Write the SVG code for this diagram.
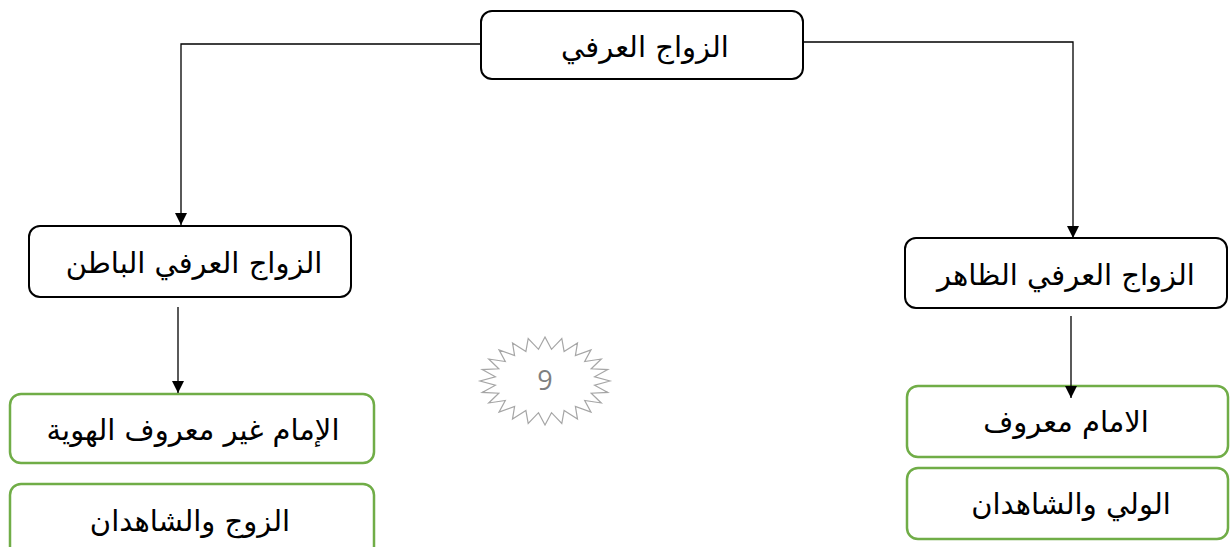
<svg xmlns="http://www.w3.org/2000/svg" width="1231" height="547" viewBox="0 0 1231 547">
<style>
.box{fill:#fff;stroke:#000;stroke-width:2}
.gbox{fill:#fff;stroke:#70AD47;stroke-width:2.5}
.t{font-family:"DejaVu Sans","Liberation Sans",sans-serif;font-size:29px;fill:#000;text-anchor:middle;direction:rtl}
.c{fill:none;stroke:#000;stroke-width:1.3}
</style>
<defs>
<marker id="ah" markerWidth="12" markerHeight="12" refX="12" refY="6" orient="auto" markerUnits="userSpaceOnUse">
<path d="M0,0 L12,6 L0,12 Z" fill="#000"/>
</marker>
</defs>
<rect width="1231" height="547" fill="#fff"/>
<g id="root">
<rect class="box" x="481" y="11" width="322" height="68" rx="11"/>
<text class="t" x="645" y="57">الزواج العرفي</text>
</g>
<g id="batin">
<rect class="box" x="29" y="226" width="322" height="71" rx="11"/>
<text class="t" x="194" y="273">الزواج العرفي الباطن</text>
</g>
<g id="zahir">
<rect class="box" x="905" y="238" width="322" height="70" rx="11"/>
<text class="t" x="1066" y="285">الزواج العرفي الظاهر</text>
</g>
<g id="imam-unknown">
<rect class="gbox" x="10" y="394" width="364" height="69" rx="11"/>
<text class="t" x="193" y="440">الإمام غير معروف الهوية</text>
</g>
<g id="husband-witnesses">
<rect class="gbox" x="10" y="484" width="364" height="75" rx="11"/>
<text class="t" x="190" y="531">الزوج والشاهدان</text>
</g>
<g id="imam-known">
<rect class="gbox" x="907" y="386" width="321" height="71" rx="11"/>
<text class="t" x="1066" y="432">الامام معروف</text>
</g>
<g id="wali-witnesses">
<rect class="gbox" x="907" y="468" width="321" height="71" rx="11"/>
<text class="t" x="1071" y="514">الولي والشاهدان</text>
</g>
<g id="page-number">
<polygon fill="none" stroke="#a6a6a6" stroke-width="1.2" points="610,381 594.6,385.2 607.8,392.4 591.2,393.2 601.3,403 584.7,400.5 591,412.1 575.4,406.4 577.5,419.1 564.1,410.6 561.8,423.5 551.5,412.7 545,425 538.5,412.7 528.2,423.5 525.9,410.6 512.5,419.1 514.6,406.4 499,412.1 505.3,400.5 488.7,403 498.8,393.2 482.2,392.4 495.4,385.2 480,381 495.4,376.8 482.2,369.6 498.8,368.8 488.7,359 505.3,361.5 499,349.9 514.6,355.6 512.5,342.9 525.9,351.4 528.2,338.5 538.5,349.3 545,337 551.5,349.3 561.8,338.5 564.1,351.4 577.5,342.9 575.4,355.6 591,349.9 584.7,361.5 601.3,359 591.2,368.8 607.8,369.6 594.6,376.8"/>
<text x="545" y="390" font-family="'Open Sans','Liberation Sans',sans-serif" font-size="27" fill="#7f7f7f" text-anchor="middle">9</text>
</g>
<g id="connectors">
<polyline class="c" points="481,44 181,44 181,225" marker-end="url(#ah)"/>
<polyline class="c" points="803,42 1073,42 1073,238" marker-end="url(#ah)"/>
<line class="c" x1="178" y1="307" x2="178" y2="393" marker-end="url(#ah)"/>
<line class="c" x1="1071" y1="316" x2="1071" y2="398" marker-end="url(#ah)"/>
</g>
</svg>
